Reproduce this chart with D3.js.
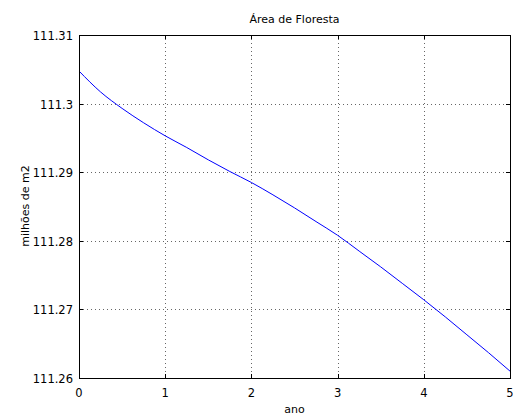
<!DOCTYPE html>
<html>
<head>
<meta charset="utf-8">
<script src="https://cdn.jsdelivr.net/npm/d3@7"></script>
<style>
  body { margin: 0; background: #fff; }
  text { font-family: "DejaVu Sans", sans-serif; fill: #000; }
</style>
</head>
<body>
<div class="chart"></div>
<script>
// data
var anos = [0, 0.25, 0.5, 0.75, 1, 1.25, 1.5, 1.75, 2, 2.25, 2.5, 2.75, 3,
            3.25, 3.5, 3.75, 4, 4.25, 4.5, 4.75, 5];
var area = [111.30475, 111.3017, 111.2993, 111.2972, 111.2953, 111.2936, 111.2918,
            111.2901, 111.2885, 111.2867, 111.2848, 111.2828, 111.2808, 111.2785,
            111.2762, 111.2738, 111.2714, 111.2689, 111.2663, 111.2637, 111.2610];
var xTicks = [0, 1, 2, 3, 4, 5];
var yTicks = [111.26, 111.27, 111.28, 111.29, 111.30, 111.31];
var yTickLabels = ["111.26", "111.27", "111.28", "111.29", "111.3", "111.31"];

var width = 513,
    height = 420;

// plot box (window.top is read-only, so no "top" here)
var boxL = 79, boxT = 35, boxR = 510, boxB = 378;

var svg = d3.select(".chart").append("svg")
  .attr("width", width)
  .attr("height", height);

var x = d3.scaleLinear().domain([0, 5]).range([boxL, boxR]);
var y = d3.scaleLinear().domain([111.26, 111.31]).range([boxB, boxT]);

// dotted grid
var grid = svg.append("g")
  .attr("stroke", "#666")
  .attr("stroke-width", 1)
  .attr("stroke-dasharray", "1,3")
  .attr("shape-rendering", "crispEdges");

grid.selectAll("line.gx")
  .data(xTicks.slice(1, -1))
  .enter().append("line")
  .attr("class", "gx")
  .attr("x1", function(d) { return Math.round(x(d)) + 0.5; })
  .attr("x2", function(d) { return Math.round(x(d)) + 0.5; })
  .attr("y1", boxT)
  .attr("y2", boxB);

grid.selectAll("line.gy")
  .data(yTicks.slice(1, -1))
  .enter().append("line")
  .attr("class", "gy")
  .attr("y1", function(d) { return Math.round(y(d)) + 0.5; })
  .attr("y2", function(d) { return Math.round(y(d)) + 0.5; })
  .attr("x1", boxL)
  .attr("x2", boxR);

// curve
var line = d3.line()
  .x(function(d, i) { return x(anos[i]); })
  .y(function(d) { return y(d); })
  .curve(d3.curveMonotoneX);

svg.append("path")
  .datum(area)
  .attr("d", line)
  .attr("fill", "none")
  .attr("stroke", "#0000ff")
  .attr("stroke-width", 1);

// box and inward ticks
var axes = svg.append("g")
  .attr("stroke", "#000")
  .attr("shape-rendering", "crispEdges");

axes.append("rect")
  .attr("x", boxL + 0.5)
  .attr("y", boxT + 0.5)
  .attr("width", boxR - boxL)
  .attr("height", boxB - boxT)
  .attr("fill", "none");

var tl = 4;
xTicks.forEach(function(d) {
  var px = Math.round(x(d)) + 0.5;
  axes.append("line").attr("x1", px).attr("x2", px).attr("y1", boxB).attr("y2", boxB - tl);
  axes.append("line").attr("x1", px).attr("x2", px).attr("y1", boxT).attr("y2", boxT + tl);
});
yTicks.forEach(function(d) {
  var py = Math.round(y(d)) + 0.5;
  axes.append("line").attr("y1", py).attr("y2", py).attr("x1", boxL).attr("x2", boxL + tl);
  axes.append("line").attr("y1", py).attr("y2", py).attr("x1", boxR).attr("x2", boxR - tl);
});

// tick labels
svg.selectAll("text.xl")
  .data(xTicks)
  .enter().append("text")
  .attr("class", "xl")
  .attr("x", function(d) { return x(d); })
  .attr("y", 397)
  .attr("text-anchor", "middle")
  .style("font-size", "11.5px")
  .text(function(d) { return d; });

svg.selectAll("text.yl")
  .data(yTicks)
  .enter().append("text")
  .attr("class", "yl")
  .attr("x", boxL - 6)
  .attr("y", function(d) { return y(d) + 5; })
  .attr("text-anchor", "end")
  .style("font-size", "11.5px")
  .text(function(d, i) { return yTickLabels[i]; });

// titles
svg.append("text")
  .attr("x", (boxL + boxR) / 2)
  .attr("y", 23)
  .attr("text-anchor", "middle")
  .style("font-size", "11px")
  .text("Área de Floresta");

svg.append("text")
  .attr("x", (boxL + boxR) / 2)
  .attr("y", 413)
  .attr("text-anchor", "middle")
  .style("font-size", "11px")
  .text("ano");

svg.append("text")
  .attr("transform", "translate(29,206) rotate(-90)")
  .attr("text-anchor", "middle")
  .style("font-size", "11px")
  .text("milhões de m2");
</script>
</body>
</html>
